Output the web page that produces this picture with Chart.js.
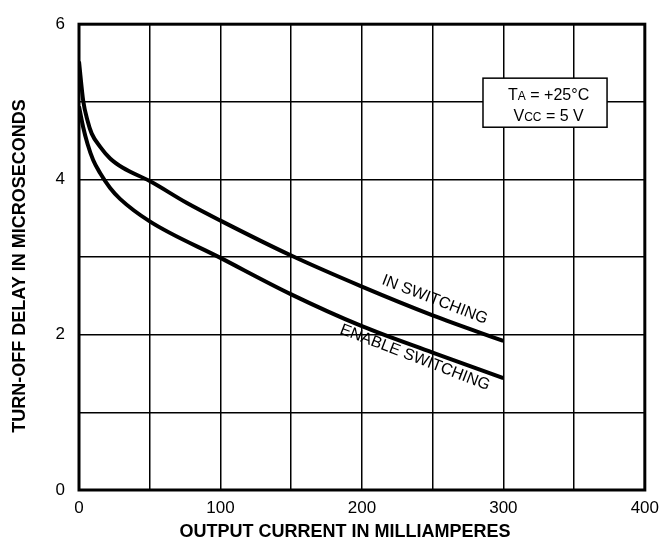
<!DOCTYPE html>
<html>
<head>
<meta charset="utf-8">
<script src="https://cdn.jsdelivr.net/npm/chart.js@4.4.1/dist/chart.umd.min.js"></script>
<style>
  html, body { margin: 0; padding: 0; background: #fff; }
</style>
</head>
<body>
<canvas id="chart" width="667" height="546"></canvas>
<script>
// data
const inCurrent   = [0, 3, 6, 9, 15, 22, 31, 50, 76, 100, 150, 200, 250, 300];
const inDelay     = [5.52, 5.01, 4.76, 4.59, 4.42, 4.27, 4.15, 3.98, 3.70, 3.47, 3.02, 2.62, 2.25, 1.92];
const enCurrent   = [0, 3, 6, 10, 15, 22, 29, 50, 100, 150, 200, 250, 300];
const enDelay     = [4.94, 4.67, 4.46, 4.25, 4.08, 3.89, 3.75, 3.46, 2.99, 2.52, 2.11, 1.77, 1.44];

const curveLabels = ["IN SWITCHING", "ENABLE SWITCHING"];
const xTitle = "OUTPUT CURRENT IN MILLIAMPERES";
const yTitle = "TURN-OFF DELAY IN MICROSECONDS";

const FONT = '"Liberation Sans", Arial, sans-serif';

function toPoints(xs, ys) {
    return xs.map((v, i) => ({ x: v, y: ys[i] }));
}

const decorations = {
    id: 'decorations',
    afterDatasetsDraw(chart) {
        const { ctx, chartArea: a, scales: { x, y } } = chart;
        ctx.save();

        // heavy frame round the plot
        ctx.strokeStyle = '#000';
        ctx.lineWidth = 3;
        ctx.strokeRect(a.left, a.top, a.right - a.left, a.bottom - a.top);

        // conditions box
        const bx0 = x.getPixelForValue(285.6), bx1 = x.getPixelForValue(373.3);
        const by0 = y.getPixelForValue(5.305), by1 = y.getPixelForValue(4.673);
        ctx.fillStyle = '#fff';
        ctx.fillRect(bx0, by0, bx1 - bx0, by1 - by0);
        ctx.lineWidth = 1.5;
        ctx.strokeRect(bx0, by0, bx1 - bx0, by1 - by0);

        const cx = x.getPixelForValue(332);
        drawRuns(ctx, [["T", 16], ["A", 12], [" = +25\u00B0C", 16]], cx, by0 + 22);
        drawRuns(ctx, [["V", 16], ["CC", 12], [" = 5 V", 16]], cx, by0 + 43);

        // curve labels along the lines
        ctx.fillStyle = '#000';
        ctx.font = '16px ' + FONT;
        ctx.textAlign = 'center';
        ctx.textBaseline = 'middle';
        const ang = 21 * Math.PI / 180;
        ctx.save();
        ctx.translate(x.getPixelForValue(251.5), y.getPixelForValue(2.45));
        ctx.rotate(ang);
        ctx.fillText(curveLabels[0], 0, 0);
        ctx.restore();
        ctx.save();
        ctx.translate(x.getPixelForValue(237.5), y.getPixelForValue(1.705));
        ctx.rotate(ang);
        ctx.fillText(curveLabels[1], 0, 0);
        ctx.restore();

        // axis titles
        ctx.font = 'bold 18px ' + FONT;
        ctx.fillText(xTitle, 345, 532);
        ctx.save();
        ctx.translate(20, 266);
        ctx.rotate(-Math.PI / 2);
        ctx.fillText(yTitle, 0, 0);
        ctx.restore();

        ctx.restore();
    }
};

// text with small subscripts sitting on the same baseline
function drawRuns(ctx, runs, cx, baseline) {
    ctx.fillStyle = '#000';
    ctx.textAlign = 'left';
    ctx.textBaseline = 'alphabetic';
    let total = 0;
    runs.forEach(([t, s]) => { ctx.font = s + 'px ' + FONT; total += ctx.measureText(t).width; });
    let px = cx - total / 2;
    runs.forEach(([t, s]) => {
        ctx.font = s + 'px ' + FONT;
        ctx.fillText(t, px, baseline);
        px += ctx.measureText(t).width;
    });
}

const whiteBg = {
    id: 'whiteBg',
    beforeDraw(chart) {
        const { ctx, width, height } = chart;
        ctx.save();
        ctx.fillStyle = '#fff';
        ctx.fillRect(0, 0, width, height);
        ctx.restore();
    }
};

const lineStyle = {
    showLine: true,
    borderColor: '#000',
    borderWidth: 4,
    pointRadius: 0,
    cubicInterpolationMode: 'monotone',
    fill: false
};

new Chart(document.getElementById('chart'), {
    type: 'scatter',
    data: {
        datasets: [
            { label: curveLabels[0], data: toPoints(inCurrent, inDelay), ...lineStyle },
            { label: curveLabels[1], data: toPoints(enCurrent, enDelay), ...lineStyle }
        ]
    },
    options: {
        responsive: false,
        animation: false,
        layout: { padding: { left: 0, right: 18, top: 15, bottom: 0 } },
        plugins: { legend: { display: false }, tooltip: { enabled: false } },
        scales: {
            x: {
                type: 'linear',
                min: 0, max: 400,
                afterFit(scale) { scale.height = 56; },
                grid: { color: '#000', lineWidth: 1.5, drawTicks: false },
                border: { display: false },
                ticks: {
                    stepSize: 50,
                    padding: 8,
                    color: '#000',
                    font: { family: FONT, size: 17 },
                    maxRotation: 0,
                    autoSkip: false,
                    callback: v => (v % 100 === 0 ? v : '')
                }
            },
            y: {
                min: 0, max: 6,
                afterFit(scale) { scale.width = 79; },
                grid: { color: '#000', lineWidth: 1.5, drawTicks: false },
                border: { display: false },
                ticks: {
                    stepSize: 1,
                    padding: 14,
                    color: '#000',
                    font: { family: FONT, size: 17 },
                    autoSkip: false,
                    callback: v => (v % 2 === 0 ? v : '')
                }
            }
        }
    },
    plugins: [whiteBg, decorations]
});
</script>
</body>
</html>
